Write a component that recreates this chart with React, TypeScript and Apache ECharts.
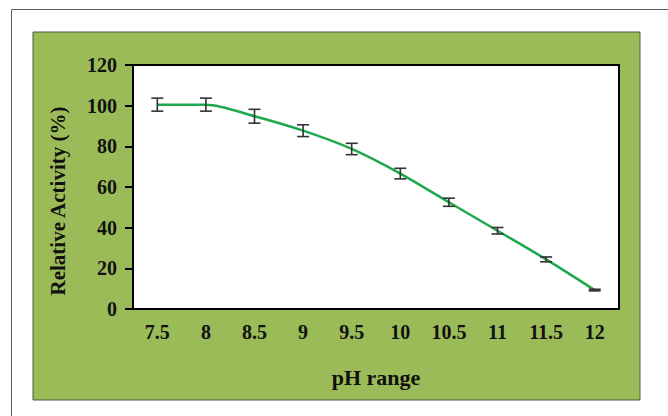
import React, { useEffect, useRef } from "react";
import * as echarts from "echarts";

const phLabels = ["7.5", "8", "8.5", "9", "9.5", "10", "10.5", "11", "11.5", "12"];
const activity = [100.5, 100.5, 94.8, 87.7, 78.7, 66.6, 52.5, 38.5, 24.4, 9.3];
const errors = [3.2, 3.2, 3.4, 2.9, 2.8, 2.6, 2.0, 1.6, 1.2, 0.4];
const yTicks = { min: 0, max: 120, interval: 20 };
const xTitle = "pH range";
const yTitle = "Relative Activity (%)";

export default function App() {
  const ref = useRef<HTMLDivElement>(null);
  useEffect(() => {
    document.body.style.margin = "0";
    const chart = echarts.init(ref.current!, null, { renderer: "svg" });
    const font = "'Liberation Serif', 'Times New Roman', serif";
    const errData = phLabels.map((_, i) => [i, activity[i] - errors[i], activity[i] + errors[i]]);
    chart.setOption({
      animation: false,
      backgroundColor: "#ffffff",
      graphic: [
        {
          type: "rect",
          z: -100,
          shape: { x: 11.5, y: 9.5, width: 700, height: 500 },
          style: { fill: "#ffffff", stroke: "#5a5a5a", lineWidth: 1 },
        },
        {
          type: "rect",
          z: -90,
          shape: { x: 33, y: 32, width: 607, height: 368 },
          style: { fill: "#9bbb59", stroke: "#4f5a3a", lineWidth: 1 },
        },
        {
          type: "text",
          z: 10,
          x: 58,
          y: 201,
          rotation: Math.PI / 2,
          style: {
            text: yTitle,
            fontFamily: font,
            fontWeight: "bold",
            fontSize: 21,
            fill: "#111",
            align: "center",
            verticalAlign: "middle",
          },
        },
      ],
      grid: {
        left: 133,
        top: 65,
        width: 486,
        height: 244,
        show: true,
        backgroundColor: "#ffffff",
        borderColor: "#000000",
        borderWidth: 2,
        z: 1,
      },
      xAxis: {
        type: "category",
        data: phLabels,
        boundaryGap: true,
        name: xTitle,
        nameLocation: "middle",
        nameGap: 57,
        nameTextStyle: { fontFamily: font, fontWeight: "bold", fontSize: 22, color: "#111" },
        axisLine: { lineStyle: { color: "#000", width: 2 } },
        axisTick: { alignWithLabel: true, length: 5, lineStyle: { color: "#000", width: 2 } },
        axisLabel: { fontFamily: font, fontWeight: "bold", fontSize: 20, color: "#111", margin: 13 },
        splitLine: { show: false },
      },
      yAxis: {
        type: "value",
        min: yTicks.min,
        max: yTicks.max,
        interval: yTicks.interval,
        axisLine: { show: true, lineStyle: { color: "#000", width: 2 } },
        axisTick: { show: true, length: 8, lineStyle: { color: "#000", width: 2 } },
        axisLabel: { fontFamily: font, fontWeight: "bold", fontSize: 20, color: "#111", margin: 16 },
        splitLine: { show: false },
      },
      series: [
        {
          type: "line",
          data: activity,
          smooth: 0.3,
          symbol: "none",
          lineStyle: { color: "#1ea84c", width: 2.5 },
          z: 3,
        },
        {
          type: "custom",
          data: errData,
          z: 4,
          renderItem: (params: any, api: any) => {
            const x = api.value(0);
            const lo = api.coord([x, api.value(1)]);
            const hi = api.coord([x, api.value(2)]);
            const hw = 6;
            const st = { stroke: "#333333", lineWidth: 1.6 };
            return {
              type: "group",
              children: [
                { type: "line", shape: { x1: lo[0], y1: lo[1], x2: hi[0], y2: hi[1] }, style: st },
                { type: "line", shape: { x1: lo[0] - hw, y1: lo[1], x2: lo[0] + hw, y2: lo[1] }, style: st },
                { type: "line", shape: { x1: hi[0] - hw, y1: hi[1], x2: hi[0] + hw, y2: hi[1] }, style: st },
              ],
            };
          },
        },
      ],
    });
    return () => chart.dispose();
  }, []);
  return <div ref={ref} style={{ width: 668, height: 416 }} />;
}
